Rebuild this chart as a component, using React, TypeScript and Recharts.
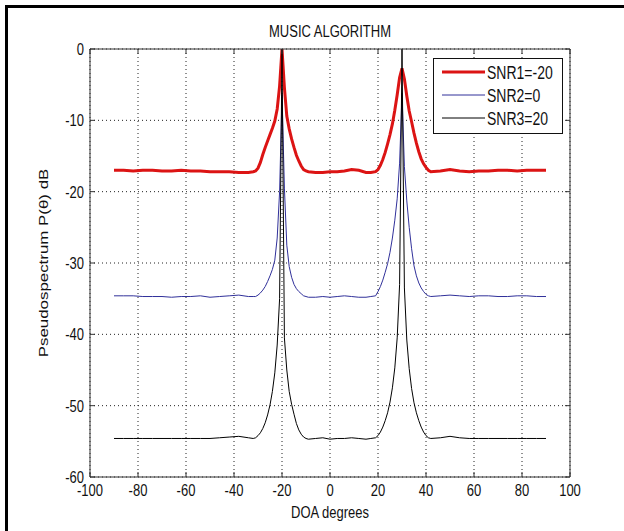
import React from 'react';
import { LineChart, Line, XAxis, YAxis, CartesianGrid, Legend } from 'recharts';

const DOA = [
  -90, -86, -82, -78, -74, -70, -66, -62, -58, -54, -50, -46, -42, -38, -34,
  -32, -31, -30, -29, -28, -27, -26, -25, -24, -23, -22, -21, -20, -19, -18, -17, -16, -15, -14, -13, -12, -11, -10, -9,
  -6, -3, 0, 3, 6, 9, 12, 15, 17,
  19, 20, 21, 22, 23, 24, 25, 26, 27, 28, 29, 30, 31, 32, 33, 34, 35, 36, 37, 38, 39, 40, 41, 42,
  46, 50, 54, 58, 62, 66, 70, 74, 78, 82, 86, 90,
];

const SNR1 = [
  -17.0, -17.0, -17.1, -17.0, -17.0, -17.1, -17.1, -17.0, -17.1, -17.1, -17.2, -17.2, -17.2, -17.3, -17.3,
  -17.2, -17.1, -16.7, -15.9, -14.8, -13.8, -12.9, -12.0, -11.1, -10.1, -8.4, -5.2, 0, -5.4, -9.4, -11.2, -12.6, -13.8, -14.9, -15.7, -16.4, -16.9, -17.1, -17.2,
  -17.3, -17.3, -17.2, -17.2, -17.1, -16.9, -17.0, -17.3, -17.3,
  -17.2, -16.9, -16.3, -15.5, -14.5, -13.3, -12.0, -10.5, -8.6, -6.4, -4.0, -2.7, -4.2, -6.6, -8.7, -10.2, -11.8, -13.2, -14.4, -15.4, -16.1, -16.6, -17.0, -17.2,
  -17.1, -16.9, -17.1, -17.2, -17.1, -17.1, -17.0, -17.0, -17.1, -17.0, -17.0, -17.0,
];

const SNR2 = [
  -34.6, -34.6, -34.6, -34.7, -34.7, -34.7, -34.8, -34.7, -34.7, -34.6, -34.8, -34.7, -34.6, -34.5, -34.7,
  -34.7, -34.7, -34.5, -34.2, -33.8, -33.3, -32.6, -31.8, -30.9, -29.6, -26.5, -20.0, -6.4, -19.5, -27.5, -30.5, -32.0, -33.0, -33.6, -34.0, -34.3, -34.6, -34.7, -34.8,
  -34.8, -34.7, -34.8, -34.7, -34.6, -34.7, -34.8, -34.8, -34.7,
  -34.6, -34.0, -33.3, -32.4, -31.3, -30.1, -28.5, -26.5, -24.0, -21.0, -16.0, -6.2, -16.5, -21.3, -25.0, -28.0, -30.4, -31.8, -32.8, -33.5, -34.0, -34.4, -34.6, -34.7,
  -34.6, -34.5, -34.6, -34.7, -34.6, -34.6, -34.7, -34.7, -34.6, -34.6, -34.7, -34.7,
];

const SNR3 = [
  -54.6, -54.6, -54.6, -54.6, -54.6, -54.6, -54.6, -54.6, -54.6, -54.6, -54.6, -54.5, -54.4, -54.3, -54.5,
  -54.6, -54.5, -54.2, -53.8, -53.2, -52.4, -51.3, -49.9, -48.0, -45.4, -41.5, -35.0, 0, -40.5, -45.0, -48.0, -49.8, -51.2, -52.5, -53.4, -54.0, -54.4, -54.6, -54.7,
  -54.6, -54.5, -54.7, -54.6, -54.6, -54.5, -54.6, -54.7, -54.6,
  -54.5, -54.2, -53.7, -53.0, -52.1, -51.0, -49.5, -47.5, -44.7, -40.5, -33.0, 0, -33.5, -40.8, -44.8, -47.6, -49.6, -51.0, -52.1, -53.0, -53.7, -54.2, -54.5, -54.6,
  -54.5, -54.3, -54.5, -54.6, -54.6, -54.6, -54.6, -54.6, -54.6, -54.6, -54.6, -54.6,
];

const X_TICKS = [-100, -80, -60, -40, -20, 0, 20, 40, 60, 80, 100];
const Y_TICKS = [-60, -50, -40, -30, -20, -10, 0];
const SERIES_NAMES = ['SNR1=-20', 'SNR2=0', 'SNR3=20'];
const SERIES_COLORS = ['#dc1414', '#30309a', '#000000'];
const SERIES_WIDTHS = [3, 1, 1];
const TITLE = 'MUSIC ALGORITHM';
const X_LABEL = 'DOA degrees';
const Y_LABEL = 'Pseudospectrum P(\u03B8) dB';

const DATA = DOA.map((x, i) => ({ x, s1: SNR1[i], s2: SNR2[i], s3: SNR3[i] }));

const SY = 1.3;
const TXT: React.CSSProperties = {
  fontFamily: '"Liberation Sans", Arial, Helvetica, sans-serif',
  fontSize: 13,
  fill: '#111',
};

const XTick = (props: any) => {
  const { x, y, payload } = props;
  return (
    <g transform={`translate(${x},${y}) scale(1,${SY})`}>
      <text x={0} y={0} dy="0.36em" textAnchor="middle" style={TXT}>
        {payload.value}
      </text>
    </g>
  );
};

const YTick = (props: any) => {
  const { x, y, payload } = props;
  return (
    <g transform={`translate(${x},${y}) scale(1,${SY})`}>
      <text x={0} y={0} dy="0.36em" textAnchor="end" style={TXT}>
        {payload.value}
      </text>
    </g>
  );
};

const EmptyTick = () => <g />;

const TitleLabel = (props: any) => {
  const vb = props.viewBox || {};
  const cx = vb.x + vb.width / 2;
  const cy = vb.y - 17;
  return (
    <g transform={`translate(${cx},${cy}) scale(1,${SY})`}>
      <text x={0} y={0} dy="0.36em" textAnchor="middle" style={TXT}>
        {TITLE}
      </text>
    </g>
  );
};

const XLabel = (props: any) => {
  const vb = props.viewBox || {};
  const cx = vb.x + vb.width / 2;
  const cy = vb.y + 35;
  return (
    <g transform={`translate(${cx},${cy}) scale(1,${SY})`}>
      <text x={0} y={0} dy="0.36em" textAnchor="middle" style={TXT}>
        {X_LABEL}
      </text>
    </g>
  );
};

const YLabel = (props: any) => {
  const vb = props.viewBox || {};
  const cx = vb.x + 13;
  const cy = vb.y + vb.height / 2;
  return (
    <g transform={`translate(${cx},${cy}) scale(1,${SY}) rotate(-90)`}>
      <text x={0} y={0} dy="0.36em" textAnchor="middle" style={TXT}>
        {Y_LABEL}
      </text>
    </g>
  );
};

const LegendBox = () => (
  <svg width={130} height={76} style={{ display: 'block' }}>
    <rect x={0.5} y={0.5} width={129} height={75} fill="#fff" stroke="#111" strokeWidth={1} />
    {SERIES_NAMES.map((name, i) => {
      const cy = 14 + i * 23;
      return (
        <g key={name}>
          <line x1={9} x2={52} y1={cy} y2={cy} stroke={SERIES_COLORS[i]} strokeWidth={SERIES_WIDTHS[i]} />
          <g transform={`translate(54,${cy}) scale(1,${SY})`}>
            <text x={0} y={0} dy="0.36em" textAnchor="start" style={{ ...TXT, fontSize: 14 }}>
              {name}
            </text>
          </g>
        </g>
      );
    })}
  </svg>
);

export default function App() {
  return (
    <div style={{ position: 'absolute', left: 0, top: 0, width: 624, height: 531, background: '#fff' }}>
      <div
        style={{
          position: 'absolute',
          left: 5,
          top: 5,
          width: 624,
          height: 531,
          borderLeft: '3px solid #000',
          borderTop: '3px solid #000',
        }}
      />
      <div style={{ position: 'absolute', left: 0, top: 0 }}>
        <LineChart
          width={624}
          height={531}
          data={DATA}
          margin={{ top: 48, right: 53, bottom: 24, left: 30 }}
        >
          <CartesianGrid stroke="#222" strokeDasharray="1 3" />
          <XAxis
            type="number"
            dataKey="x"
            domain={[-100, 100]}
            ticks={X_TICKS}
            allowDataOverflow
            height={30}
            tickSize={-5}
            tickMargin={18}
            tick={<XTick />}
            axisLine={{ stroke: '#333' }}
            tickLine={{ stroke: '#333' }}
            label={XLabel}
          />
          <XAxis
            xAxisId="top"
            orientation="top"
            type="number"
            dataKey="x"
            domain={[-100, 100]}
            ticks={X_TICKS}
            allowDataOverflow
            height={1}
            tickSize={-5}
            tick={EmptyTick}
            axisLine={{ stroke: '#333' }}
            tickLine={{ stroke: '#333' }}
            label={TitleLabel}
          />
          <YAxis
            type="number"
            domain={[-60, 0]}
            ticks={Y_TICKS}
            allowDataOverflow
            width={60}
            tickSize={-5}
            tickMargin={11}
            tick={<YTick />}
            axisLine={{ stroke: '#333' }}
            tickLine={{ stroke: '#333' }}
            label={YLabel}
          />
          <YAxis
            yAxisId="right"
            orientation="right"
            type="number"
            domain={[-60, 0]}
            ticks={Y_TICKS}
            allowDataOverflow
            width={1}
            tickSize={-5}
            tick={EmptyTick}
            axisLine={{ stroke: '#333' }}
            tickLine={{ stroke: '#333' }}
          />
          <Line type="linear" dataKey="s1" name={SERIES_NAMES[0]} stroke={SERIES_COLORS[0]} strokeWidth={SERIES_WIDTHS[0]} dot={false} isAnimationActive={false} />
          <Line type="linear" dataKey="s2" name={SERIES_NAMES[1]} stroke={SERIES_COLORS[1]} strokeWidth={SERIES_WIDTHS[1]} dot={false} isAnimationActive={false} />
          <Line type="linear" dataKey="s3" name={SERIES_NAMES[2]} stroke={SERIES_COLORS[2]} strokeWidth={SERIES_WIDTHS[2]} dot={false} isAnimationActive={false} />
          <Legend
            layout="vertical"
            align="center"
            verticalAlign="middle"
            wrapperStyle={{ left: 433, top: 58, width: 130, height: 76 }}
            content={LegendBox}
          />
        </LineChart>
      </div>
    </div>
  );
}
